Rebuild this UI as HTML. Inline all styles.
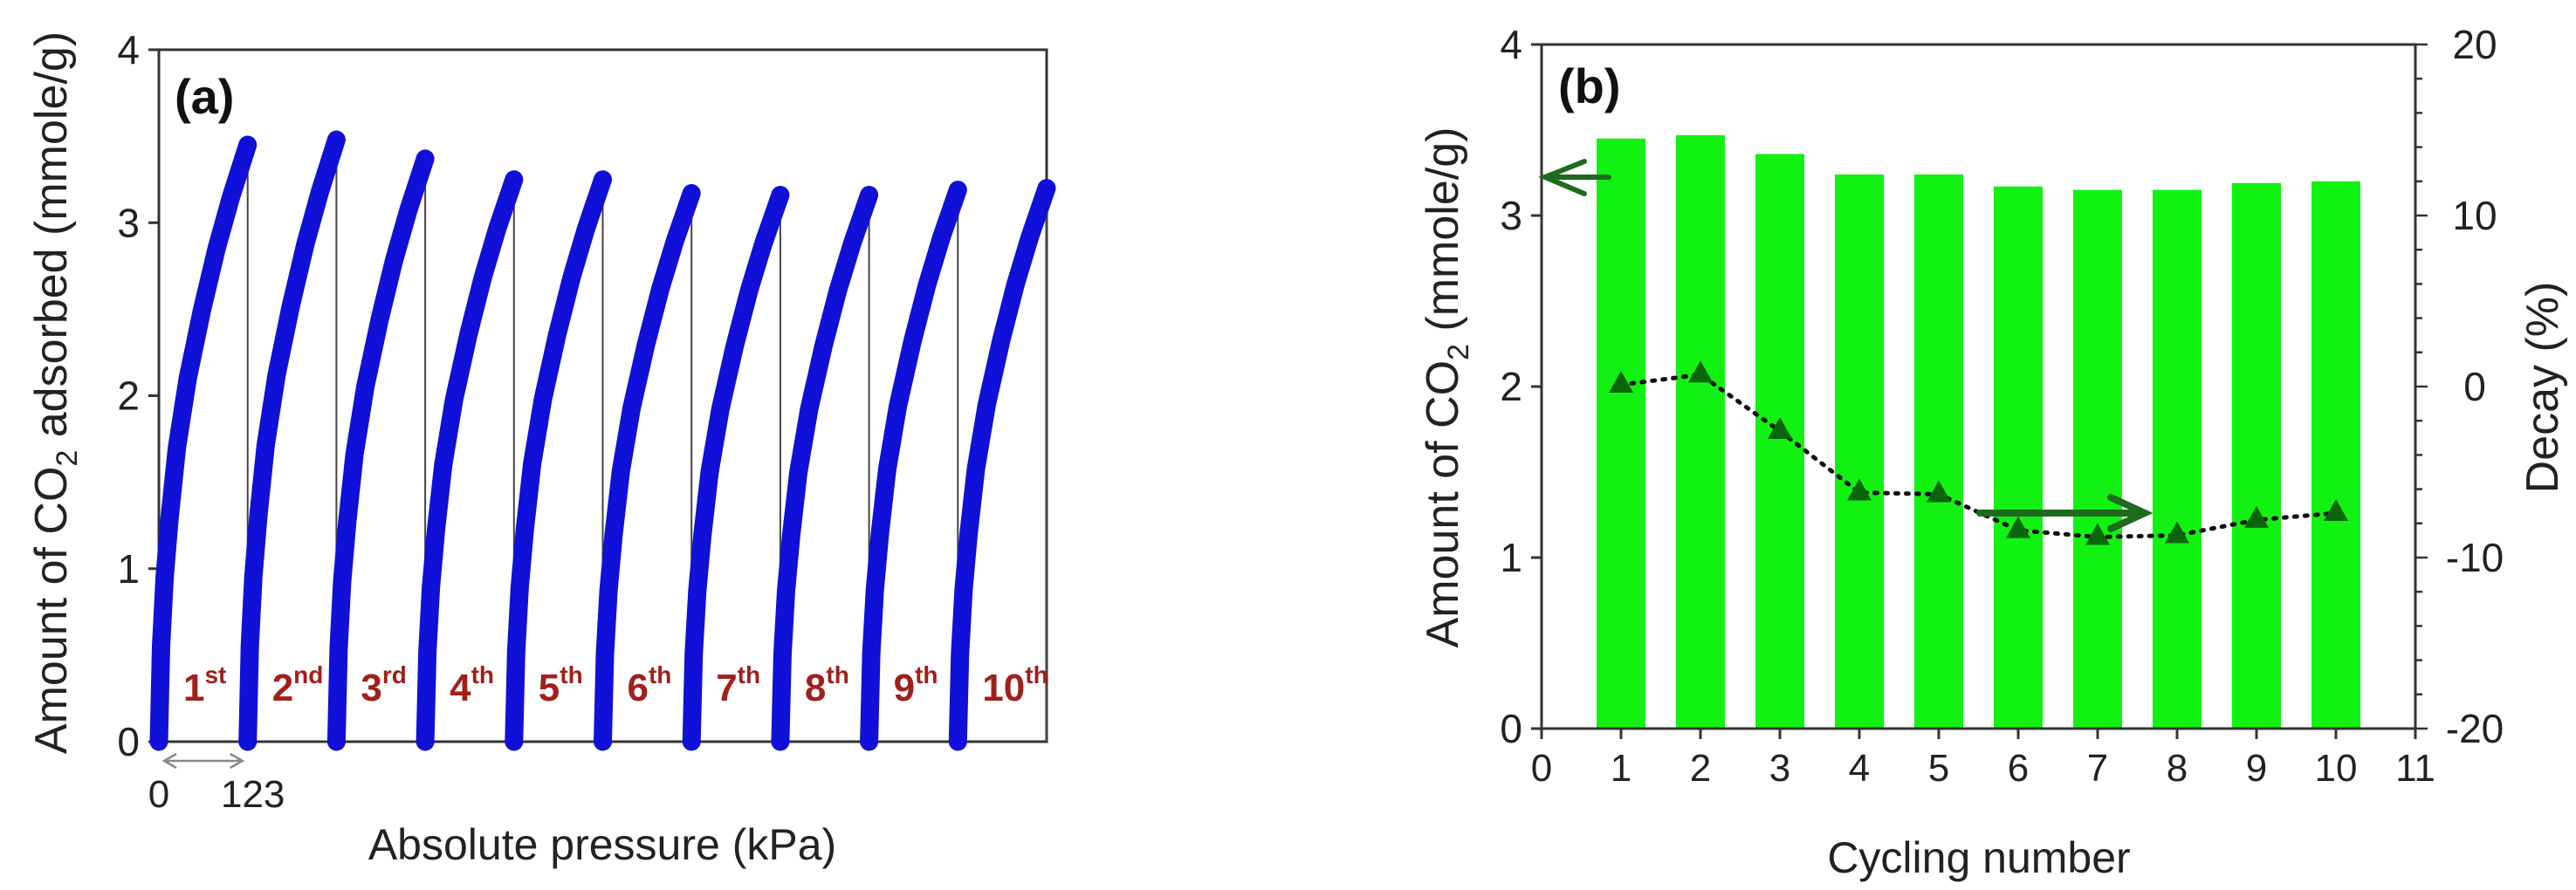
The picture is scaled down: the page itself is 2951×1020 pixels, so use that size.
<!DOCTYPE html>
<html><head><meta charset="utf-8"><style>
html,body{margin:0;padding:0;background:#fff;}
svg{display:block;font-family:"Liberation Sans",Arial,sans-serif;}
</style></head><body>
<svg id="fig" width="2951" height="1020" viewBox="0 0 2951 1020" xmlns="http://www.w3.org/2000/svg">
<g id="pa"></g>
<g id="pb"></g>
</svg>
<script>
// Panel (a) data
const cycleLabels = ["1","2","3","4","5","6","7","8","9","10"];
const cycleSuffix = ["st","nd","rd","th","th","th","th","th","th","th"];
const cyclePeaks = [3.45,3.48,3.37,3.25,3.25,3.17,3.16,3.16,3.19,3.20];
const isoPressure = [0,3,8,15,25,40,60,80,100,123];
const isoAmount1 = [0,0.55,0.95,1.3,1.7,2.1,2.5,2.85,3.15,3.45];
const cycleWidthKPa = 123;
const aYTicks = [0,1,2,3,4];
// Panel (b) data
const cycles = [1,2,3,4,5,6,7,8,9,10];
const capacity = [3.45,3.47,3.36,3.24,3.24,3.17,3.15,3.15,3.19,3.20];
const decay = [0.1,0.7,-2.6,-6.2,-6.3,-8.4,-8.8,-8.7,-7.8,-7.4];
const bXTicks = [0,1,2,3,4,5,6,7,8,9,10,11];
const bYTicks = [0,1,2,3,4];
const bY2Ticks = [-20,-10,0,10,20];

const NS="http://www.w3.org/2000/svg";
function mk(parent,tag,attrs,text){const e=document.createElementNS(NS,tag);for(const k in attrs)e.setAttribute(k,attrs[k]);if(text!==undefined)e.textContent=text;parent.appendChild(e);return e;}

// ---------- Panel A ----------
const pa=document.getElementById('pa');
const aL=182,aR=1199,aT=57,aB=850;
const aX=p=>aL+p*(aR-aL)/(cycleWidthKPa*10);
const aY=v=>aB-v*(aB-aT)/4;
let e;
e=mk(pa,'rect',{x:aL,y:aT,width:aR-aL,height:aB-aT,fill:'none',stroke:'#333','stroke-width':3});


aYTicks.forEach(t=>{
  e=mk(pa,'line',{x1:aL-12,x2:aL,y1:aY(t),y2:aY(t),stroke:'#333','stroke-width':3});
  
  
  e=mk(pa,'text',{x:aL-22,y:aY(t)+16,'font-size':46,'text-anchor':'end',fill:'#222'},String(t));
  
  
});
cyclePeaks.forEach((pk,i)=>{
  const off=i*cycleWidthKPa;
  const sc=pk/isoAmount1[isoAmount1.length-1];
  // vertical drop line
  e=mk(pa,'line',{x1:aX(off+cycleWidthKPa),x2:aX(off+cycleWidthKPa),y1:aY(pk),y2:aB,stroke:'#444','stroke-width':2});
  
  
  let d=isoPressure.map((p,j)=>(j?'L':'M')+aX(off+p).toFixed(1)+','+aY(isoAmount1[j]*sc).toFixed(1)).join(' ');
  e=mk(pa,'path',{d:d,fill:'none',stroke:'#1010d8','stroke-width':21,'stroke-linecap':'round','stroke-linejoin':'round'});
  
  
  const t=mk(pa,'text',{x:aX(off)+28,y:aB-47,'font-size':44,'font-weight':'bold',fill:'#a0201c'});
  
  
  mk(t,'tspan',{},cycleLabels[i]);
  mk(t,'tspan',{'font-size':28,dy:-20},cycleSuffix[i]);
});
e=mk(pa,'text',{x:200,y:130,'font-size':56,'font-weight':'bold',fill:'#111'},'(a)');


// 0-123 arrow
e=mk(pa,'g',{stroke:'#888','stroke-width':2.5,fill:'none'});


mk(e,'line',{x1:aX(0)+6,x2:aX(123)-6,y1:872,y2:872});
mk(e,'path',{d:`M${aX(0)+20},864 L${aX(0)+6},872 L${aX(0)+20},880 M${aX(123)-20},864 L${aX(123)-6},872 L${aX(123)-20},880`});
e=mk(pa,'text',{x:aX(0),y:925,'font-size':44,'text-anchor':'middle',fill:'#222'},'0');


e=mk(pa,'text',{x:aX(123)+6,y:925,'font-size':44,'text-anchor':'middle',fill:'#222'},'123');


e=mk(pa,'text',{x:690,y:985,'font-size':50,'text-anchor':'middle',fill:'#222'},'Absolute pressure (kPa)');


e=mk(pa,'text',{transform:'translate(76,450) rotate(-90)','font-size':52,'text-anchor':'middle',fill:'#222'});


mk(e,'tspan',{},'Amount of CO');mk(e,'tspan',{'font-size':34,dy:12},'2');mk(e,'tspan',{dy:-12},' adsorbed (mmole/g)');

// ---------- Panel B ----------
const pb=document.getElementById('pb');
const bL=1766,bR=2767,bT=51,bB=835;
const bX=v=>bL+v*(bR-bL)/11;
const bY=v=>bB-v*(bB-bT)/4;
const bY2=v=>bB-(v+20)*(bB-bT)/40;
capacity.forEach((v,i)=>{
  const w=56;
  e=mk(pb,'rect',{x:bX(cycles[i])-w/2,y:bY(v),width:w,height:bB-bY(v),fill:'#12f212'});
  
  
});
e=mk(pb,'polyline',{points:cycles.map((c,i)=>bX(c)+','+bY2(decay[i])).join(' '),fill:'none',stroke:'#111','stroke-width':5,'stroke-dasharray':'3 9','stroke-linecap':'round'});


cycles.forEach((c,i)=>{
  const x=bX(c),y=bY2(decay[i]);
  e=mk(pb,'path',{d:`M${x},${y-16} L${x+14},${y+9} L${x-14},${y+9} Z`,fill:'#0b650b'});
  
  
});
// axes
e=mk(pb,'path',{d:`M${bL},${bT} L${bL},${bB} L${bR},${bB} L${bR},${bT} L${bL},${bT}`,fill:'none',stroke:'#333','stroke-width':3});


bXTicks.forEach(t=>{
  e=mk(pb,'line',{x1:bX(t),x2:bX(t),y1:bB,y2:bB+12,stroke:'#333','stroke-width':3});
  
  
  e=mk(pb,'text',{x:bX(t),y:bB+60,'font-size':44,'text-anchor':'middle',fill:'#222'},String(t));
  
  
});
bYTicks.forEach(t=>{
  e=mk(pb,'line',{x1:bL-12,x2:bL,y1:bY(t),y2:bY(t),stroke:'#333','stroke-width':3});
  
  
  e=mk(pb,'text',{x:bL-22,y:bY(t)+16,'font-size':46,'text-anchor':'end',fill:'#222'},String(t));
  
  
});
for(let v=-20;v<=20;v+=2){
  e=mk(pb,'line',{x1:bR,x2:bR+(v%10===0?14:8),y1:bY2(v),y2:bY2(v),stroke:'#333','stroke-width':2.5});
  
  
}
bY2Ticks.forEach(t=>{
  e=mk(pb,'text',{x:bR+68,y:bY2(t)+16,'font-size':46,'text-anchor':'middle',fill:'#222'},String(t));
  
  
});
e=mk(pb,'text',{x:1785,y:118,'font-size':56,'font-weight':'bold',fill:'#111'},'(b)');


// arrows
e=mk(pb,'g',{stroke:'#1e6a1e','stroke-width':6,fill:'none','stroke-linecap':'round'});


mk(e,'path',{d:`M1843,203 L1770,203 M1815,185 L1770,203 L1815,222`});
e=mk(pb,'g',{stroke:'#1e6a1e','stroke-width':8,fill:'none','stroke-linecap':'round'});


mk(e,'path',{d:`M2268,588 L2455,588 M2418,570 L2457,588 L2418,606`});
e=mk(pb,'text',{x:2267,y:1000,'font-size':50,'text-anchor':'middle',fill:'#222'},'Cycling number');


e=mk(pb,'text',{transform:'translate(1670,444) rotate(-90)','font-size':52,'text-anchor':'middle',fill:'#222'});


mk(e,'tspan',{},'Amount of CO');mk(e,'tspan',{'font-size':34,dy:12},'2');mk(e,'tspan',{dy:-12},' (mmole/g)');
e=mk(pb,'text',{transform:'translate(2930,444) rotate(-90)','font-size':52,'text-anchor':'middle',fill:'#222'},'Decay (%)');


</script>
</body></html>
